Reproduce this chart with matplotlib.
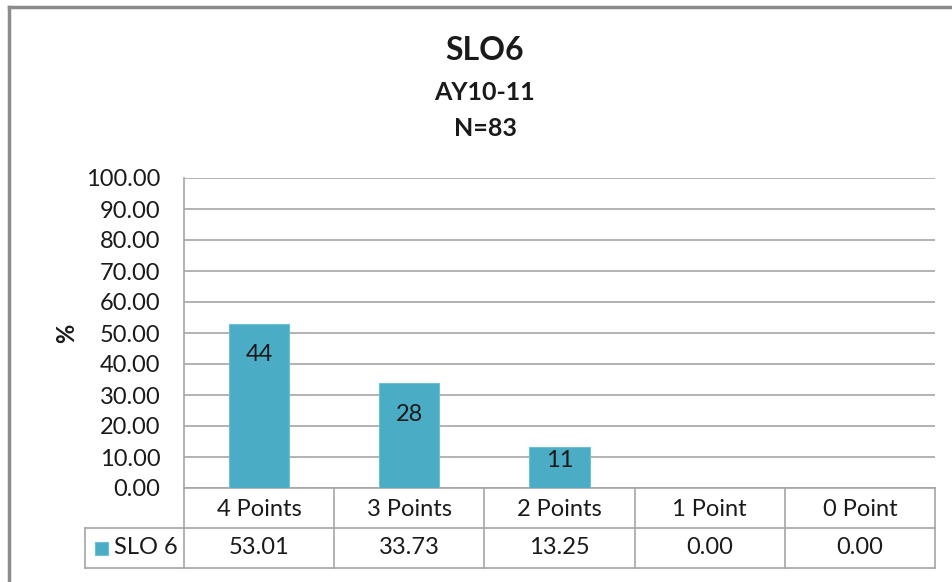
import matplotlib
matplotlib.use("Agg")
import matplotlib.pyplot as plt
from matplotlib.lines import Line2D
from matplotlib.patches import Rectangle
import matplotlib.transforms as mtransforms

categories = ["4 Points", "3 Points", "2 Points", "1 Point", "0 Point"]
series_name = "SLO 6"
percent = [53.01, 33.73, 13.25, 0.00, 0.00]
counts = [44, 28, 11, 0, 0]
yticks = [0, 10, 20, 30, 40, 50, 60, 70, 80, 90, 100]
title_lines = ["SLO6", "AY10-11", "N=83"]

FONT = ["Lato", "DejaVu Sans"]
plt.rcParams["font.family"] = FONT

BAR = "#4BACC6"
GRID = "#A6A6A6"
TXT = "#1a1a1a"
FS = 17

W, H = 953, 582
fig = plt.figure(figsize=(W / 100, H / 100), dpi=100)

def px(x0, y0, x1, y1):
    return [x0 / W, 1 - y1 / H, (x1 - x0) / W, (y1 - y0) / H]

ax = fig.add_axes(px(184, 178, 935, 488))
x = list(range(len(categories)))
ax.bar(x, percent, width=0.4, color=BAR, edgecolor="#6cc0d6", linewidth=0.8, zorder=3)
ax.set_xlim(-0.5, len(categories) - 0.5)
ax.set_ylim(0, 100)
ax.set_yticks(yticks)
ax.set_yticklabels([f"{v:.2f}" for v in yticks], fontsize=FS, color=TXT)
ax.tick_params(axis="y", length=0, pad=17)
ax.set_xticks([])
ax.grid(axis="y", color=GRID, linewidth=1.2, zorder=0)
for s in ["top", "right", "bottom"]:
    ax.spines[s].set_visible(False)
ax.spines["left"].set_color(GRID)
ax.spines["left"].set_linewidth(1.2)
ax.set_ylabel("%", fontsize=FS, fontweight="bold", color=TXT, labelpad=6)

# data labels
for xi, v, c in zip(x, percent, counts):
    if c > 0:
        ax.text(xi, max(v - 10, 9), str(c), ha="center", va="center",
                fontsize=FS, color=TXT, zorder=4)

# data table below the axes
trans = mtransforms.blended_transform_factory(ax.transData, ax.transAxes)
row_h = 40 / 310
legend_left = -0.5 - 99 / 150.2
lw = 1.2
def hline(x0, x1, y):
    ax.add_line(Line2D([x0, x1], [y, y], transform=trans, color=GRID, lw=lw, clip_on=False))
def vline(xv, y0, y1):
    ax.add_line(Line2D([xv, xv], [y0, y1], transform=trans, color=GRID, lw=lw, clip_on=False))

n = len(categories)
hline(-0.5, n - 0.5, 0)
hline(legend_left, n - 0.5, -row_h)
hline(legend_left, n - 0.5, -2 * row_h)
vline(-0.5, -2 * row_h, 0)
for i in range(1, n + 1):
    vline(i - 0.5, -2 * row_h, 0)
vline(legend_left, -2 * row_h, -row_h)

for xi, cat, v in zip(x, categories, percent):
    ax.text(xi, -0.53 * row_h, cat, transform=trans, ha="center", va="center",
            fontsize=FS, color=TXT, clip_on=False)
    ax.text(xi, -1.5 * row_h, f"{v:.2f}", transform=trans, ha="center", va="center",
            fontsize=FS, color=TXT, clip_on=False)

# legend key in table
ax.add_patch(Rectangle((legend_left + 10 / 150.2, -1.5 * row_h - 6.5 / 310), 13 / 150.2, 13 / 310,
                       transform=trans, facecolor=BAR, edgecolor="#6cc0d6", lw=0.8, clip_on=False))
ax.text(legend_left + 29 / 150.2, -1.5 * row_h, series_name, transform=trans, ha="left", va="center",
        fontsize=FS, color=TXT, clip_on=False)

# titles
fig.text(485 / W, 1 - 50 / H, title_lines[0], ha="center", va="center", fontsize=23, fontweight="bold", color=TXT)
fig.text(485 / W, 1 - 92 / H, title_lines[1], ha="center", va="center", fontsize=18, fontweight="bold", color=TXT)
fig.text(485 / W, 1 - 128 / H, title_lines[2], ha="center", va="center", fontsize=18, fontweight="bold", color=TXT)

# outer chart frame (top and left edges visible)
fig.add_artist(Line2D([9 / W, 1], [1 - 7 / H, 1 - 7 / H], transform=fig.transFigure, color="#8c8c8c", lw=2.5))
fig.add_artist(Line2D([9 / W, 9 / W], [0, 1 - 7 / H], transform=fig.transFigure, color="#8c8c8c", lw=2.5))

fig.savefig("out.png", dpi=100)
